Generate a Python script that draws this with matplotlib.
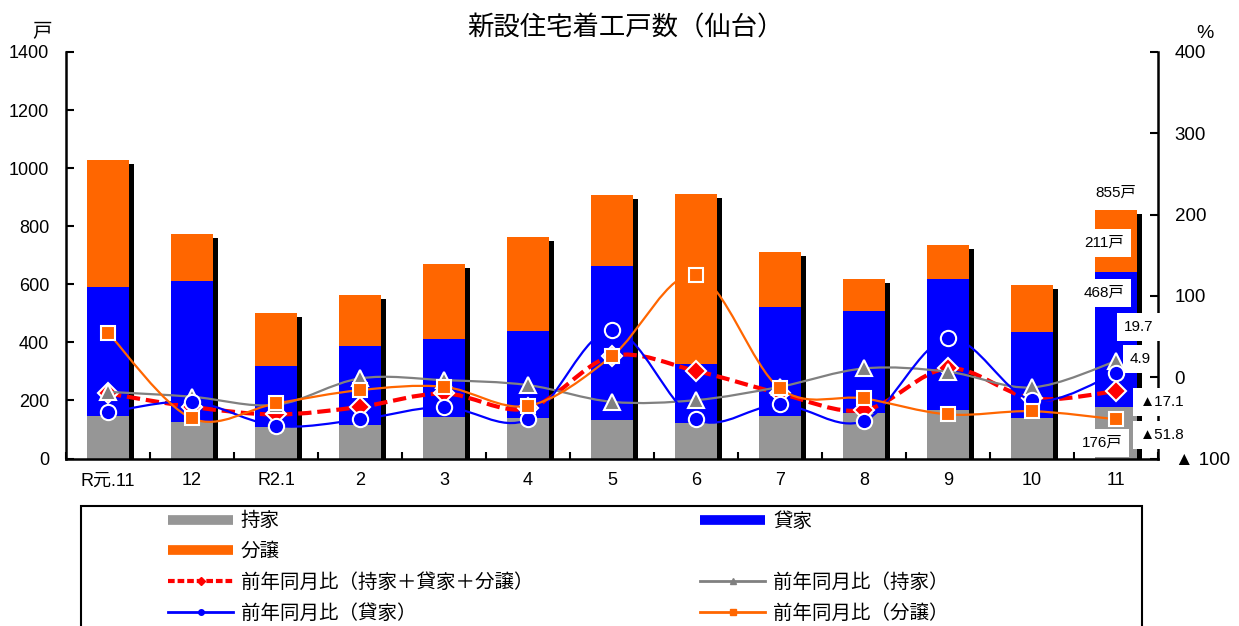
import numpy as np
import matplotlib
matplotlib.use('Agg')
import matplotlib.pyplot as plt
from matplotlib.path import Path
from matplotlib.patches import PathPatch, Rectangle
from matplotlib.lines import Line2D

plt.rcParams['font.family'] = ['Liberation Sans', 'Noto Sans CJK JP', 'DejaVu Sans']

# ---- data ----
months = ['R元.11', '12', 'R2.1', '2', '3', '4', '5', '6', '7', '8', '9', '10', '11']
mochiie = [146, 125, 107, 115, 143, 141, 134, 121, 145, 155, 166, 140, 176]   # 持家
kashiya = [446, 485, 211, 273, 267, 299, 530, 205, 377, 354, 452, 294, 468]   # 貸家
bunjo = [437, 162, 182, 175, 261, 322, 243, 586, 189, 109, 117, 164, 211]     # 分譲
yoy_total = [-20, -36.5, -45.8, -36.5, -20, -38.4, 26, 7.7, -20, -40.5, 10.8, -26.1, -17.1]
yoy_mochiie = [-18, -24, -34, -1.5, -3.6, -9.7, -30.3, -28.2, -11.8, 10.8, 6.7, -12.6, 19.7]
yoy_kashiya = [-43.4, -30.3, -59.9, -52, -36.5, -52, 58, -52, -33.5, -53.7, 47.8, -28.2, 4.9]
yoy_bunjo = [54.7, -50.7, -32.3, -15.9, -11.8, -35.2, 26, 125.7, -13.8, -26.1, -45.8, -41.8, -51.8]
left_ticks = [0, 200, 400, 600, 800, 1000, 1200, 1400]
right_ticks = [-100, 0, 100, 200, 300, 400]
right_tick_labels = ['▲ 100', '0', '100', '200', '300', '400']

C_GRAY = '#969696'
C_BLUE = '#0000FF'
C_ORANGE = '#FF6600'
C_RED = '#FF0000'
C_GLINE = '#808080'


def smooth_path(xs, ys):
    """Excel-style smoothed line (Catmull-Rom as cubic Bezier)."""
    P = np.column_stack([xs, ys]).astype(float)
    n = len(P)
    verts = [P[0]]
    codes = [Path.MOVETO]
    for i in range(n - 1):
        p0 = P[i - 1] if i > 0 else P[i]
        p1 = P[i]
        p2 = P[i + 1]
        p3 = P[i + 2] if i + 2 < n else P[i + 1]
        c1 = p1 + (p2 - p0) / 6.0
        c2 = p2 - (p3 - p1) / 6.0
        verts += [c1, c2, p2]
        codes += [Path.CURVE4] * 3
    return Path(verts, codes)


fig = plt.figure(figsize=(12.39, 6.26), dpi=100)
W, H = 1239, 626
ax = fig.add_axes([66 / W, 1 - 458.5 / H, (1158 - 66) / W, (458.5 - 52) / H])

x = np.arange(len(months))
m = np.array(mochiie)
k = np.array(kashiya)
b = np.array(bunjo)
tot = m + k + b

# shadow bars
ax.bar(x + 0.055, tot - 14, width=0.5, color='black', zorder=1)
ax.bar(x, m, width=0.5, color=C_GRAY, zorder=2)
ax.bar(x, k, width=0.5, bottom=m, color=C_BLUE, zorder=2)
ax.bar(x, b, width=0.5, bottom=m + k, color=C_ORANGE, zorder=2)

ax.set_xlim(-0.5, len(months) - 0.5)
ax.set_ylim(0, 1400)
ax.set_xticks(x, months)
ax.set_xticks(np.arange(-0.5, len(months), 1.0), minor=True)
ax.tick_params(axis='x', which='major', length=0, pad=10, labelsize=13)
ax.tick_params(axis='x', which='minor', direction='in', length=5, width=1.5)
ax.set_yticks(left_ticks)
ax.tick_params(axis='y', direction='in', length=6, width=1.5, labelsize=13, pad=12)
for s in ['top', 'right']:
    ax.spines[s].set_visible(False)
for s in ['left', 'bottom']:
    ax.spines[s].set_linewidth(1.8)

ax2 = ax.twinx()
ax2.set_ylim(-100, 400)
ax2.set_yticks(right_ticks, right_tick_labels)
ax2.tick_params(axis='y', direction='in', length=6, width=1.5, labelsize=13.5, pad=12)
for s in ['top', 'left', 'bottom']:
    ax2.spines[s].set_visible(False)
ax2.spines['right'].set_linewidth(1.8)

series = [
    (yoy_total, C_RED, 3.0, (0, (3.2, 1.4)), 'D', C_RED, 10),
    (yoy_mochiie, C_GLINE, 1.6, 'solid', '^', C_GLINE, 11),
    (yoy_kashiya, C_BLUE, 1.6, 'solid', 'o', C_BLUE, 11),
    (yoy_bunjo, C_ORANGE, 1.6, 'solid', 's', C_ORANGE, 10.5),
]
z = 3
for ys, col, lw, ls, mk, mc, ms in series:
    patch = PathPatch(smooth_path(x, ys), facecolor='none', edgecolor=col,
                      lw=lw, linestyle=ls, zorder=z)
    ax2.add_patch(patch)
    ax2.plot(x, ys, ls='none', marker=mk, ms=ms, mfc=mc, mec='white',
             mew=1.5, zorder=z + 0.5)
    z += 1

# annotations for the last month
bbox = dict(boxstyle='square,pad=0.45', fc='white', ec='none')
last = len(months) - 1
fs = 11
ax2.annotate(f'{tot[last]}戸', xy=(last, tot[last]), xycoords=ax.transData,
             xytext=(0, 13), textcoords='offset points', ha='center', va='center',
             fontsize=fs, zorder=20)
ax2.annotate(f'{bunjo[last]}戸', xy=(last, m[last] + k[last] + b[last] / 2), xycoords=ax.transData,
             xytext=(-8.6, -1.6), textcoords='offset points', ha='center', va='center',
             fontsize=fs, bbox=bbox, zorder=20)
ax2.annotate(f'{kashiya[last]}戸', xy=(last, m[last] + k[last]), xycoords=ax.transData,
             xytext=(-8.6, -15.5), textcoords='offset points', ha='center', va='center',
             fontsize=fs, bbox=bbox, zorder=20)
ax2.annotate(f'{mochiie[last]}戸', xy=(last, m[last]), xycoords=ax.transData,
             xytext=(-10, -25.7), textcoords='offset points', ha='center', va='center',
             fontsize=fs, bbox=bbox, zorder=20)


def pct(v):
    return f'{v:.1f}' if v >= 0 else f'▲{-v:.1f}'


ax2.annotate(pct(yoy_mochiie[last]), xy=(last, yoy_mochiie[last]),
             xytext=(16.6, 24.5), textcoords='offset points', ha='center', va='center',
             fontsize=fs, bbox=bbox, zorder=20)
ax2.annotate(pct(yoy_kashiya[last]), xy=(last, yoy_kashiya[last]),
             xytext=(17.3, 10.3), textcoords='offset points', ha='center', va='center',
             fontsize=fs, bbox=bbox, zorder=20)
ax2.annotate(pct(yoy_total[last]), xy=(last, yoy_total[last]),
             xytext=(33, -7.9), textcoords='offset points', ha='center', va='center',
             fontsize=fs, bbox=bbox, zorder=20)
ax2.annotate(pct(yoy_bunjo[last]), xy=(last, yoy_bunjo[last]),
             xytext=(33, -11.3), textcoords='offset points', ha='center', va='center',
             fontsize=fs, bbox=bbox, zorder=20)

# titles / units
fig.text(625 / W, 1 - 28 / H, '新設住宅着工戸数（仙台）', ha='center', va='center', fontsize=19)
fig.text(42 / W, 1 - 33 / H, '戸', ha='center', va='center', fontsize=14)
fig.text(1205 / W, 1 - 33 / H, '%', ha='center', va='center', fontsize=14)

# legend (frame + two columns)
fig.add_artist(Rectangle((81 / W, -0.1), (1142 - 81) / W, (1 - 506 / H) + 0.1,
                         transform=fig.transFigure, fill=False, ec='black', lw=1.5))
h_m = Line2D([], [], color=C_GRAY, lw=7, solid_capstyle='butt')
h_k = Line2D([], [], color=C_BLUE, lw=7, solid_capstyle='butt')
h_b = Line2D([], [], color=C_ORANGE, lw=7, solid_capstyle='butt')
h_t = Line2D([], [], color=C_RED, lw=3, ls=(0, (1.6, 0.7)), marker='D', ms=4, mfc=C_RED, mec=C_RED)
h_ym = Line2D([], [], color=C_GLINE, lw=2, marker='^', ms=4, mfc=C_GLINE, mec=C_GLINE)
h_yk = Line2D([], [], color=C_BLUE, lw=2, marker='o', ms=4, mfc=C_BLUE, mec=C_BLUE)
h_yb = Line2D([], [], color=C_ORANGE, lw=2, marker='s', ms=4, mfc=C_ORANGE, mec=C_ORANGE)
h_none = Line2D([], [], color='none')

kw = dict(loc='upper left', frameon=False, fontsize=14, handlelength=3.35,
          handletextpad=0.4, labelspacing=0.64, borderpad=0, borderaxespad=0)
leg1 = fig.legend([h_m, h_b, h_t, h_yk],
                  ['持家', '分譲', '前年同月比（持家＋貸家＋分譲）', '前年同月比（貸家）'],
                  bbox_to_anchor=(168 / W, 1 - 512 / H), **kw)
leg2 = fig.legend([h_k, h_none, h_ym, h_yb],
                  ['貸家', ' ', '前年同月比（持家）', '前年同月比（分譲）'],
                  bbox_to_anchor=(700 / W, 1 - 512 / H), **kw)

fig.savefig('out.png', dpi=100)
